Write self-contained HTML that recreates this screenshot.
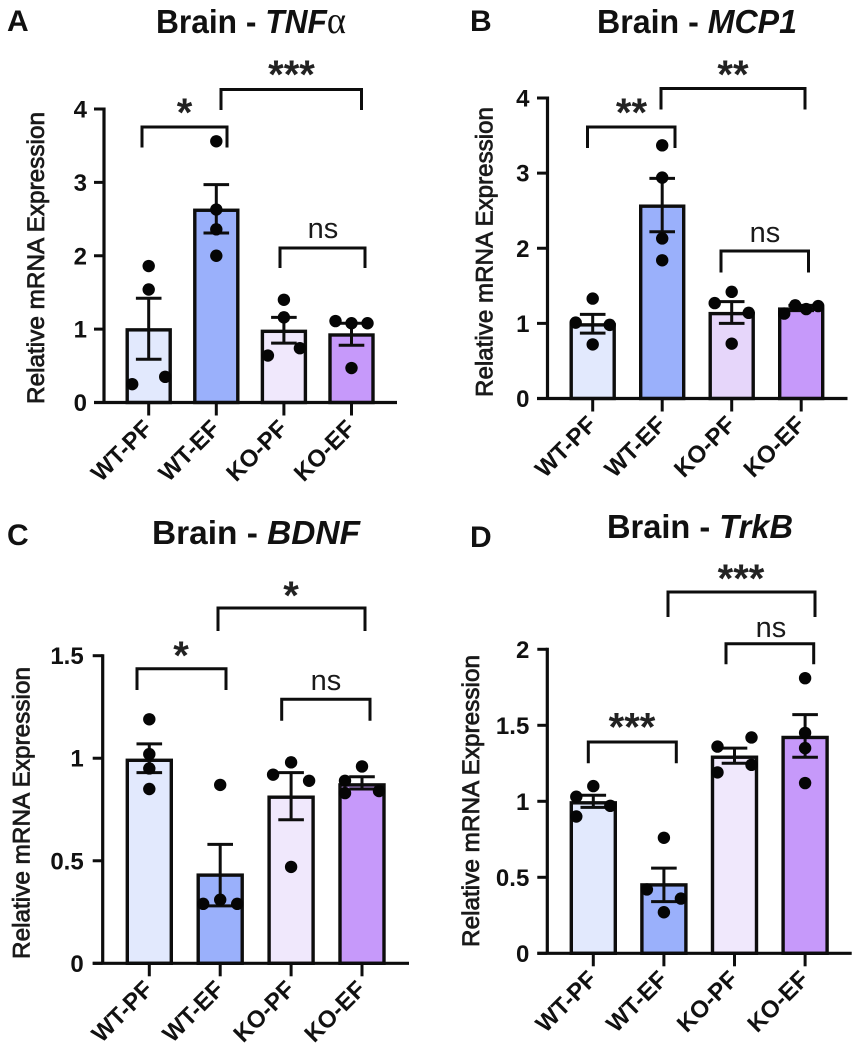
<!DOCTYPE html>
<html lang="en">
<head>
<meta charset="utf-8">
<title>Brain mRNA expression</title>
<style>
html,body{margin:0;padding:0;background:#fff;}
svg{display:block;}
text{font-family:"Liberation Sans",sans-serif;fill:#111;}
.panel-letter{font-size:30px;font-weight:bold;}
.title{font-size:33px;font-weight:bold;}
.title .it{font-style:italic;}
.title .gr{font-family:"Liberation Serif",serif;font-weight:normal;font-style:normal;font-size:38px;}
.ytitle{font-size:24px;font-weight:normal;fill:#1a1a1a;stroke:#1a1a1a;stroke-width:0.75px;}
.ytick{font-size:24px;font-weight:bold;text-anchor:end;}
.cat{font-size:24px;font-weight:bold;text-anchor:end;}
.star{font-size:40px;font-weight:bold;text-anchor:middle;fill:#222;}
.ns{font-size:29px;text-anchor:middle;fill:#1a1a1a;}
</style>
</head>
<body>
<svg id="fig" xmlns="http://www.w3.org/2000/svg" width="855" height="1050" viewBox="0 0 855 1050">
  <text class="panel-letter" x="7" y="31">A</text>
  <text class="panel-letter" x="470" y="31">B</text>
  <text class="panel-letter" x="7" y="545">C</text>
  <text class="panel-letter" x="470" y="547">D</text>
  <text class="title" x="156" y="33" textLength="190" lengthAdjust="spacingAndGlyphs">Brain - <tspan class="it">TNF</tspan><tspan class="gr">α</tspan></text>
  <text class="title" x="597" y="33" textLength="200" lengthAdjust="spacingAndGlyphs">Brain - <tspan class="it">MCP1</tspan></text>
  <text class="title" x="152" y="544" textLength="208" lengthAdjust="spacingAndGlyphs">Brain - <tspan class="it">BDNF</tspan></text>
  <text class="title" x="607" y="538" textLength="186" lengthAdjust="spacingAndGlyphs">Brain - <tspan class="it">TrkB</tspan></text>
</svg>
<script>
// ---------- data ----------
const categories = ['WT-PF', 'WT-EF', 'KO-PF', 'KO-EF'];

const tnfTicks = [0, 1, 2, 3, 4];
const tnfTickLabels = ['0', '1', '2', '3', '4'];
const tnfMeans = [0.99, 2.62, 0.97, 0.92];
const tnfErrLow = [0.59, 2.31, 0.81, 0.78];
const tnfErrHigh = [1.42, 2.97, 1.16, 1.08];
const tnfPoints = [[1.86, 1.54, 0.35, 0.25], [3.56, 2.63, 2.36, 2.0], [1.40, 1.16, 0.74, 0.64], [1.11, 1.08, 1.08, 0.47]];

const mcpTicks = [0, 1, 2, 3, 4];
const mcpTickLabels = ['0', '1', '2', '3', '4'];
const mcpMeans = [0.98, 2.56, 1.13, 1.19];
const mcpErrLow = [0.87, 2.22, 1.0, 1.17];
const mcpErrHigh = [1.12, 2.93, 1.29, 1.24];
const mcpPoints = [[1.33, 1.01, 0.98, 0.72], [3.37, 2.94, 2.13, 1.84], [1.42, 1.27, 1.14, 0.73], [1.13, 1.24, 1.19, 1.23]];

const bdnfTicks = [0, 0.5, 1, 1.5];
const bdnfTickLabels = ['0', '0.5', '1', '1.5'];
const bdnfMeans = [0.99, 0.43, 0.81, 0.87];
const bdnfErrLow = [0.93, 0.28, 0.70, 0.85];
const bdnfErrHigh = [1.07, 0.58, 0.93, 0.91];
const bdnfPoints = [[1.19, 1.02, 0.95, 0.85], [0.87, 0.31, 0.29, 0.29], [0.98, 0.92, 0.89, 0.47], [0.96, 0.89, 0.83, 0.84]];

const trkbTicks = [0, 0.5, 1, 1.5, 2];
const trkbTickLabels = ['0', '0.5', '1', '1.5', '2'];
const trkbMeans = [0.99, 0.45, 1.29, 1.42];
const trkbErrLow = [0.96, 0.34, 1.25, 1.29];
const trkbErrHigh = [1.04, 0.56, 1.35, 1.57];
const trkbPoints = [[1.10, 1.03, 0.97, 0.90], [0.76, 0.42, 0.36, 0.27], [1.42, 1.36, 1.24, 1.19], [1.81, 1.45, 1.35, 1.12]];

// ---------- layout (pixels and styling only) ----------
const SVGNS = 'http://www.w3.org/2000/svg';
const fig = document.getElementById('fig');
const INK = '#0d0d0d';

const panels = [
  {
    key: 'tnf', ticks: tnfTicks, labels: tnfTickLabels, means: tnfMeans, low: tnfErrLow, high: tnfErrHigh, pts: tnfPoints,
    axisX: 104, y0: 402.5, yTop: 109, xL: 94, xR: 397, c0: 148.7, step: 67.6, barW: 43, labelGap: 17,
    fills: ['#e2e9fd', '#9ab0fb', '#f0e8fc', '#c699fa'],
    spread: [[0, 0, 16.5, -16.5], [0, 0, 0, 0], [0, 0, 16, -16], [-16, 0, 16, 0]],
    yTitleX: 44, yTitleY: 258, yTitleLen: 292,
    brackets: [
      {t: '*', x1: 142, x2: 227, top: 127, bot: 147.5, lx: 184.5, ly: 107},
      {t: '***', x1: 221, x2: 361.5, top: 89.5, bot: 110, lx: 291.5, ly: 69},
      {t: 'ns', x1: 280, x2: 365, top: 248, bot: 268, lx: 323, ly: 238}
    ]
  },
  {
    key: 'mcp', ticks: mcpTicks, labels: mcpTickLabels, means: mcpMeans, low: mcpErrLow, high: mcpErrHigh, pts: mcpPoints,
    axisX: 547.5, y0: 398.5, yTop: 98, xL: 537, xR: 847.5, c0: 592.7, step: 69.5, barW: 43, labelGap: 18,
    fills: ['#e2e9fd', '#9ab0fb', '#e6d6fa', '#c699fa'],
    spread: [[0, -17, 17, 0], [0, 0, 0, 0], [0, -17, 17, 0], [-17, -6, 5, 17]],
    yTitleX: 492.5, yTitleY: 252, yTitleLen: 290,
    brackets: [
      {t: '**', x1: 587.5, x2: 675, top: 127, bot: 148, lx: 631.5, ly: 107},
      {t: '**', x1: 661, x2: 805, top: 88.5, bot: 109.5, lx: 733, ly: 69},
      {t: 'ns', x1: 721, x2: 808.5, top: 251, bot: 272.5, lx: 765, ly: 242}
    ]
  },
  {
    key: 'bdnf', ticks: bdnfTicks, labels: bdnfTickLabels, means: bdnfMeans, low: bdnfErrLow, high: bdnfErrHigh, pts: bdnfPoints,
    axisX: 102.7, y0: 963.3, yTop: 655.7, xL: 92.7, xR: 409, c0: 149.3, step: 70.9, barW: 44, labelGap: 19,
    fills: ['#e2e9fd', '#9ab0fb', '#f0e8fc', '#c699fa'],
    spread: [[0, 0, 0, 0], [0, 0, -17, 17], [0, -18, 18, 0], [0, -17, -17, 17]],
    yTitleX: 29.5, yTitleY: 813, yTitleLen: 292,
    brackets: [
      {t: '*', x1: 137, x2: 226, top: 668.7, bot: 690, lx: 181, ly: 650},
      {t: '*', x1: 218, x2: 365, top: 608, bot: 631, lx: 291, ly: 590},
      {t: 'ns', x1: 281.7, x2: 370, top: 699.3, bot: 720.7, lx: 326, ly: 690}
    ]
  },
  {
    key: 'trkb', ticks: trkbTicks, labels: trkbTickLabels, means: trkbMeans, low: trkbErrLow, high: trkbErrHigh, pts: trkbPoints,
    axisX: 547.3, y0: 953.3, yTop: 649.3, xL: 537.3, xR: 851.7, c0: 593.3, step: 70.6, barW: 44, labelGap: 18,
    fills: ['#e2e9fd', '#9ab0fb', '#f0e8fc', '#c699fa'],
    spread: [[0, -17, 17, -17], [0, -17, 17, 0], [17, -17, 17, -17], [0, 0, 0, 0]],
    yTitleX: 479, yTitleY: 801, yTitleLen: 292,
    brackets: [
      {t: '***', x1: 588.3, x2: 676.3, top: 742, bot: 763.3, lx: 632, ly: 721.7},
      {t: '***', x1: 668, x2: 815, top: 592, bot: 617, lx: 741, ly: 573},
      {t: 'ns', x1: 726, x2: 813.7, top: 643.7, bot: 664.3, lx: 771, ly: 637}
    ]
  }
];

function make(tag, attrs, parent) {
  const node = document.createElementNS(SVGNS, tag);
  for (const k in attrs) node.setAttribute(k, attrs[k]);
  parent.appendChild(node);
  return node;
}

function drawPanel(p) {
  const g = make('g', {}, fig);
  
  

  const maxTick = p.ticks[p.ticks.length - 1];
  const yScale = function (v) { return p.y0 - (v / maxTick) * (p.y0 - p.yTop); };
  const xScale = function (i) { return p.c0 + i * p.step; };

  // bars
  p.means.forEach(function (m, i) {
    const bar = make('rect', {
      x: xScale(i) - p.barW / 2, y: yScale(m), width: p.barW, height: p.y0 - yScale(m),
      fill: p.fills[i], stroke: INK, 'stroke-width': 3.4
    }, g);
    
    
  });

  // error bars
  p.means.forEach(function (m, i) {
    const cx = xScale(i);
    const yLo = yScale(p.low[i]);
    const yHi = yScale(p.high[i]);
    const eb = make('path', {
      d: 'M' + cx + ' ' + yLo + 'V' + yHi +
         'M' + (cx - 12.8) + ' ' + yHi + 'H' + (cx + 12.8) +
         'M' + (cx - 12.8) + ' ' + yLo + 'H' + (cx + 12.8),
      fill: 'none', stroke: INK, 'stroke-width': 3
    }, g);
    
    
  });

  // data points
  p.pts.forEach(function (series, i) {
    series.forEach(function (v, j) {
      const dot = make('circle', {
        cx: xScale(i) + p.spread[i][j], cy: yScale(v), r: 6.2, fill: '#050505'
      }, g);
      
      
    });
  });

  // y axis
  const yAxis = make('line', {x1: p.axisX, x2: p.axisX, y1: p.yTop - 1.5, y2: p.y0, stroke: INK, 'stroke-width': 3.2}, g);
  
  

  p.ticks.forEach(function (t, i) {
    const y = yScale(t);
    const tick = make('line', {x1: p.xL, x2: p.axisX, y1: y, y2: y, stroke: INK, 'stroke-width': 3}, g);
    
    
    const label = make('text', {class: 'ytick', x: p.axisX - p.labelGap, y: y + 8.5}, g);
    label.textContent = p.labels[i];
    
    
  });

  // x axis
  const xAxis = make('line', {x1: p.xL, x2: p.xR, y1: p.y0, y2: p.y0, stroke: INK, 'stroke-width': 3.2}, g);
  
  

  categories.forEach(function (c, i) {
    const cx = xScale(i);
    const tick = make('line', {x1: cx, x2: cx, y1: p.y0, y2: p.y0 + 13, stroke: INK, 'stroke-width': 3}, g);
    
    
    const lx = cx + 5;
    const ly = p.y0 + 27.5;
    const label = make('text', {class: 'cat', x: lx, y: ly, transform: 'rotate(-45 ' + lx + ' ' + ly + ')'}, g);
    label.textContent = c;
    
    
  });

  // y axis title
  const yt = make('text', {
    class: 'ytitle', x: p.yTitleX, y: p.yTitleY, 'text-anchor': 'middle',
    textLength: p.yTitleLen, lengthAdjust: 'spacingAndGlyphs',
    transform: 'rotate(-90 ' + p.yTitleX + ' ' + p.yTitleY + ')'
  }, g);
  yt.textContent = 'Relative mRNA Expression';
  
  

  // significance brackets
  p.brackets.forEach(function (b) {
    const br = make('path', {
      d: 'M' + b.x1 + ' ' + b.bot + 'V' + b.top + 'H' + b.x2 + 'V' + b.bot,
      fill: 'none', stroke: INK, 'stroke-width': 3
    }, g);
    
    
    const isNs = b.t === 'ns';
    const tx = make('text', {class: isNs ? 'ns' : 'star', x: b.lx, y: isNs ? b.ly : b.ly + 19}, g);
    tx.textContent = b.t;
    
    
  });
}

panels.forEach(drawPanel);
</script>
</body>
</html>
